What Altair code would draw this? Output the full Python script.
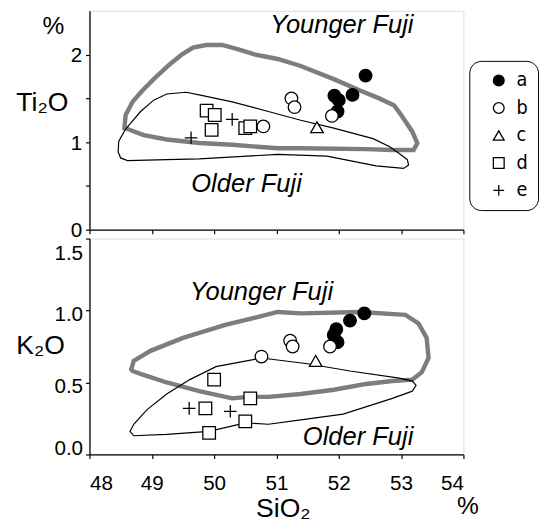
import altair as alt
import pandas as pd

# ---------------- data ----------------
groups = ["a", "b", "c", "d", "e"]

# Top panel (Ti2O vs SiO2)
top_a_x = [52.43, 52.22, 51.93, 52.00, 51.98]
top_a_y = [1.76, 1.54, 1.53, 1.48, 1.35]
top_b_x = [50.79, 51.24, 51.29, 51.89]
top_b_y = [1.18, 1.50, 1.40, 1.30]
top_c_x = [51.65]
top_c_y = [1.17]
top_d_x = [49.88, 50.01, 49.96, 50.50, 50.58]
top_d_y = [1.36, 1.31, 1.14, 1.16, 1.18]
top_e_x = [50.29, 49.63]
top_e_y = [1.26, 1.05]

# Bottom panel (K2O vs SiO2)
bot_a_x = [52.41, 52.18, 51.96, 51.92, 51.98]
bot_a_y = [0.98, 0.93, 0.87, 0.83, 0.78]
bot_b_x = [50.76, 51.22, 51.26, 51.86]
bot_b_y = [0.68, 0.79, 0.75, 0.75]
bot_c_x = [51.63]
bot_c_y = [0.65]
bot_d_x = [50.00, 50.58, 49.86, 50.50, 49.92]
bot_d_y = [0.52, 0.39, 0.32, 0.23, 0.15]
bot_e_x = [49.60, 50.26]
bot_e_y = [0.32, 0.30]

# Field outlines
top_young_x = [48.56, 48.58, 48.69, 48.85, 49.06, 49.29, 49.48, 49.66, 49.87, 50.13, 50.39,
               50.66, 51.02, 51.39, 51.92, 52.34, 52.65, 52.89, 53.02, 53.18, 53.26, 53.20,
               52.86, 52.44, 51.39, 51.02, 50.29, 49.76, 49.24, 48.87, 48.61]
top_young_y = [1.16, 1.31, 1.46, 1.59, 1.74, 1.89, 2.00, 2.08, 2.11, 2.11, 2.06,
               2.00, 1.95, 1.87, 1.72, 1.59, 1.50, 1.42, 1.29, 1.12, 0.99, 0.91,
               0.91, 0.92, 0.93, 0.93, 0.97, 0.99, 1.03, 1.08, 1.15]
top_old_x = [48.58, 48.82, 49.03, 49.24, 49.55, 49.76, 50.29, 50.87, 51.39, 51.92, 52.55,
             52.81, 52.97, 53.10, 53.12, 53.04, 52.60, 51.81, 51.02, 49.76, 49.24, 48.61,
             48.50, 48.46, 48.47]
top_old_y = [1.15, 1.35, 1.48, 1.55, 1.57, 1.54, 1.46, 1.35, 1.25, 1.16, 1.04,
             0.95, 0.87, 0.80, 0.74, 0.70, 0.73, 0.84, 0.86, 0.81, 0.80, 0.79,
             0.82, 0.89, 1.01]
bot_young_x = [48.67, 48.71, 48.98, 49.50, 50.18, 50.66, 51.02, 51.39, 52.34, 53.07, 53.28,
               53.41, 53.44, 53.33, 53.18, 52.86, 52.44, 51.92, 51.39, 50.87, 50.55, 50.29,
               49.76, 49.24, 48.82, 48.69]
bot_young_y = [0.59, 0.65, 0.72, 0.81, 0.90, 0.95, 0.99, 0.98, 0.99, 0.97, 0.91,
               0.81, 0.67, 0.57, 0.52, 0.51, 0.49, 0.45, 0.42, 0.40, 0.40, 0.39,
               0.44, 0.50, 0.56, 0.58]
bot_old_x = [48.65, 48.71, 48.92, 49.24, 49.61, 50.03, 50.39, 50.76, 51.50, 52.18, 52.97,
             53.18, 53.24, 53.18, 52.86, 52.07, 51.39, 50.87, 50.50, 49.92, 49.24, 48.71]
bot_old_y = [0.16, 0.21, 0.31, 0.42, 0.52, 0.61, 0.64, 0.67, 0.63, 0.58, 0.53,
             0.51, 0.48, 0.44, 0.39, 0.28, 0.24, 0.21, 0.22, 0.16, 0.14, 0.13]

# Annotation labels (data coordinates)
top_label_text = ["Younger Fuji", "Older Fuji"]
top_label_x = [52.05, 50.52]
top_label_y = [2.34, 0.52]
bot_label_text = ["Younger Fuji", "Older Fuji"]
bot_label_x = [50.76, 52.31]
bot_label_y = [1.13, 0.123]

x_ticks = [48, 49, 50, 51, 52, 53, 54]
top_y_ticks = [0, 0.5, 1, 1.5, 2]
bot_y_ticks = [0, 0.5, 1.0, 1.5]

# ---------------- frames ----------------
def points(xs_list, ys_list):
    rows = []
    for g, xs, ys in zip(groups, xs_list, ys_list):
        for x, y in zip(xs, ys):
            rows.append({"x": x, "y": y, "group": g})
    return pd.DataFrame(rows)

top_pts = points([top_a_x, top_b_x, top_c_x, top_d_x, top_e_x],
                 [top_a_y, top_b_y, top_c_y, top_d_y, top_e_y])
bot_pts = points([bot_a_x, bot_b_x, bot_c_x, bot_d_x, bot_e_x],
                 [bot_a_y, bot_b_y, bot_c_y, bot_d_y, bot_e_y])

def outline(xs, ys):
    return pd.DataFrame({"x": xs, "y": ys, "i": list(range(len(xs)))})

FONT = "Liberation Sans, Arial, Helvetica, sans-serif"
NARROW = "Liberation Sans Narrow, DejaVu Sans Condensed, Arial Narrow, sans-serif"

xscale = alt.Scale(domain=[48, 54], nice=False, zero=False)
shape_scale = alt.Scale(domain=groups,
                        range=["circle", "circle", "triangle-up", "square", "M-1,0L1,0M0,-1L0,1"])
fill_scale = alt.Scale(domain=groups, range=["black", "white", "white", "white", "transparent"])
stroke_scale = alt.Scale(domain=groups, range=["black", "black", "black", "black", "black"])

legend = alt.Legend(orient="none", legendX=387, legendY=51, title=None,
                    strokeColor="black", cornerRadius=12, padding=10, fillColor="white",
                    symbolOffset=10, labelOffset=8, rowPadding=8,
                    labelFont=NARROW, labelFontSize=20, labelColor="black",
                    symbolSize=120, symbolStrokeWidth=1.3)


def panel(pts, young, old, lab_text, lab_x, lab_y, ydom, xaxis, yaxis, w, h):
    y_scale = alt.Scale(domain=ydom, nice=False)
    base_x = alt.X("x:Q", scale=xscale, axis=xaxis)
    base_y = alt.Y("y:Q", scale=y_scale, axis=yaxis)

    young_line = alt.Chart(young).mark_line(
        interpolate="linear-closed", color="#7d7d7d", strokeWidth=4.5
    ).encode(x=base_x, y=base_y, order=alt.Order("i:Q"))
    old_line = alt.Chart(old).mark_line(
        interpolate="linear-closed", color="black", strokeWidth=1.2
    ).encode(x="x:Q", y="y:Q", order=alt.Order("i:Q"))
    labels = alt.Chart(pd.DataFrame({"x": lab_x, "y": lab_y, "t": lab_text})).mark_text(
        font=FONT, fontStyle="italic", fontSize=26, color="black", baseline="middle", align="center"
    ).encode(x="x:Q", y="y:Q", text="t:N")
    pts_layer = alt.Chart(pts).mark_point(
        strokeWidth=1.3, opacity=1, size=165
    ).encode(
        x="x:Q", y="y:Q",
        shape=alt.Shape("group:N", scale=shape_scale, legend=legend),
        fill=alt.Fill("group:N", scale=fill_scale, legend=legend),
        stroke=alt.Stroke("group:N", scale=stroke_scale, legend=legend),
    )
    return alt.layer(young_line, old_line, labels, pts_layer).properties(width=w, height=h)


top_xaxis = alt.Axis(values=x_ticks, labels=False, title=None, tickSize=4, grid=False,
                     domainColor="black", tickColor="black", domainWidth=1.3, tickWidth=1.2)
top_yaxis = alt.Axis(values=top_y_ticks, title="Ti\u2082O", grid=False,
                     labelExpr="datum.value % 1 == 0 ? format(datum.value, 'd') : ''",
                     tickSize=4, labelPadding=4, labelFontSize=21, labelFont=FONT,
                     labelColor="black", domainColor="black", tickColor="black",
                     domainWidth=1.3, tickWidth=1.2, labelOffset=1,
                     titleAngle=0, titleX=-75, titleY=94, titleAlign="left",
                     titleBaseline="middle", titleFontSize=27, titleFontWeight="normal",
                     titleFont=FONT, titleColor="black")
bot_xaxis = alt.Axis(values=x_ticks, format="d", title="SiO\u2082", grid=False,
                     tickSize=4, labelPadding=15, labelFontSize=21, labelFont=FONT,
                     labelColor="black", domainColor="black", tickColor="black",
                     domainWidth=1.3, tickWidth=1.2,
                     titleX=197, titleY=55, titleBaseline="middle", titleAlign="center",
                     titleFontSize=27, titleFontWeight="normal", titleFont=FONT,
                     titleColor="black")
bot_yaxis = alt.Axis(values=bot_y_ticks, format=".1f", title="K\u2082O", grid=False,
                     tickSize=4, labelPadding=3, labelFontSize=21, labelFont=FONT,
                     labelColor="black", domainColor="black", tickColor="black",
                     domainWidth=1.3, tickWidth=1.2, labelOffset=4, labelFlush=True,
                     titleAngle=0, titleX=-75, titleY=109, titleAlign="left",
                     titleBaseline="middle", titleFontSize=27, titleFontWeight="normal",
                     titleFont=FONT, titleColor="black")

top = panel(top_pts, outline(top_young_x, top_young_y), outline(top_old_x, top_old_y),
            top_label_text, top_label_x, top_label_y, [0, 2.5],
            top_xaxis, top_yaxis, 381, 223)
top_pct = alt.Chart(pd.DataFrame({"x": [47.42], "y": [2.32], "t": ["%"]})).mark_text(
    font=FONT, fontSize=25, color="black", baseline="middle", align="center"
).encode(x="x:Q", y="y:Q", text="t:N")
top = alt.layer(top, top_pct)

bot = panel(bot_pts, outline(bot_young_x, bot_young_y), outline(bot_old_x, bot_old_y),
            bot_label_text, bot_label_x, bot_label_y, [0, 1.5],
            bot_xaxis, bot_yaxis, 381, 220)
bot_pct = alt.Chart(pd.DataFrame({"x": [54.07], "y": [-0.36], "t": ["%"]})).mark_text(
    font=FONT, fontSize=25, color="black", baseline="middle", align="center"
).encode(x="x:Q", y="y:Q", text="t:N")
bot = alt.layer(bot, bot_pct)

chart = alt.vconcat(top, bot, spacing=9, bounds="flush").properties(
    padding={"left": 7, "top": -3, "right": 0, "bottom": 0}
).configure_view(stroke="black", strokeWidth=1.3).configure(background="white")

chart.save("out.html", embed_options={"renderer": "svg", "actions": False})
